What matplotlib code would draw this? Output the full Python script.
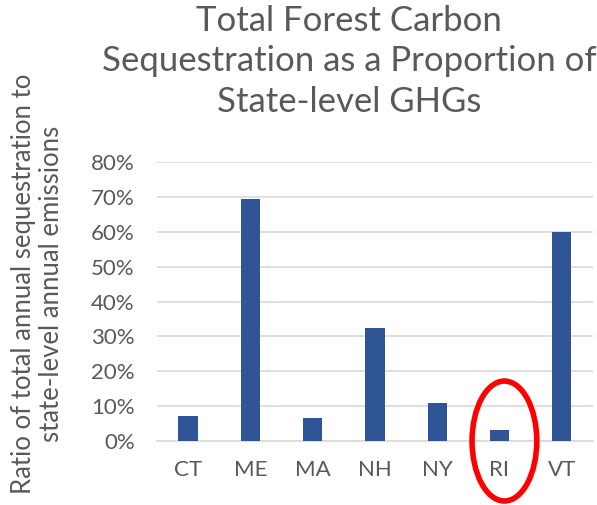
import matplotlib.pyplot as plt
from matplotlib.patches import Ellipse
from matplotlib.ticker import PercentFormatter

states = ['CT', 'ME', 'MA', 'NH', 'NY', 'RI', 'VT']
ratio = [0.072, 0.694, 0.066, 0.324, 0.109, 0.032, 0.599]
yticks = [0, 0.1, 0.2, 0.3, 0.4, 0.5, 0.6, 0.7, 0.8]

plt.rcParams['font.family'] = ['Lato', 'DejaVu Sans']

fig = plt.figure(figsize=(5.97, 5.05), dpi=100)
ax = fig.add_axes([0.263, 0.1267, 0.73, 0.5523])

x = list(range(len(states)))
ax.bar(x, ratio, width=0.31, color='#2F5597', zorder=3)

ax.set_xlim(-0.5, len(states) - 0.5)
ax.set_ylim(0, 0.8)
ax.set_yticks(yticks)
ax.yaxis.set_major_formatter(PercentFormatter(1.0, decimals=0))
ax.set_xticks(x)
ax.set_xticklabels(states)
ax.grid(axis='y', color='#D9D9D9', linewidth=1.2, zorder=0)
for s in ['top', 'right', 'left']:
    ax.spines[s].set_visible(False)
ax.spines['bottom'].set_color('#D9D9D9')
ax.spines['bottom'].set_linewidth(1.2)
ax.tick_params(axis='both', length=0, colors='#595959', labelsize=16)
ax.tick_params(axis='x', pad=14)
ax.tick_params(axis='y', pad=16)

ax.set_ylabel('Ratio of total annual sequestration to\nstate-level annual emissions',
              fontsize=18.5, color='#595959', linespacing=1.12)
ax.yaxis.set_label_coords(-0.214, 0.563)

fig.text(0.585, 0.99, 'Total Forest Carbon\nSequestration as a Proportion of\nState-level GHGs',
         ha='center', va='top', fontsize=25, color='#595959', linespacing=1.32)

# highlight RI
ri = states.index('RI')
ax.add_patch(Ellipse((ri + 0.08, 0.0), 1.04, 0.344, fill=False,
                     edgecolor='#FF0000', linewidth=4, clip_on=False, zorder=5))

fig.savefig('out.png', dpi=100)
